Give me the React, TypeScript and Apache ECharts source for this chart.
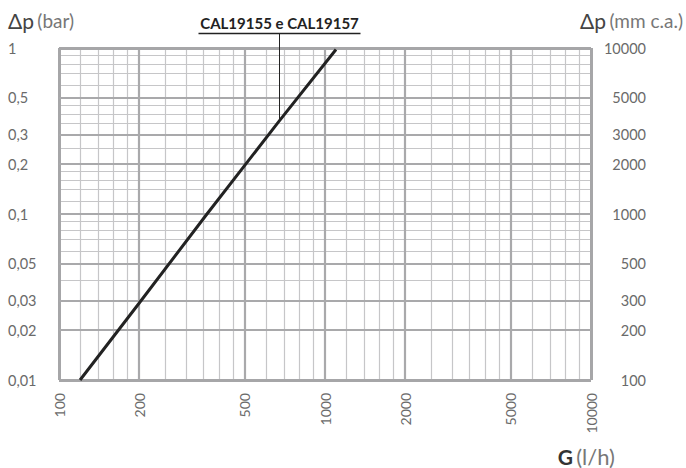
import React, { useEffect, useRef } from "react";
import * as echarts from "echarts";

// ---- data ----
const curveName = "CAL19155 e CAL19157";
const flowG = [120, 200, 360, 670, 1100]; // l/h
const dpBar = [0.01, 0.029, 0.1, 0.36, 0.98]; // bar

// annotation anchor on the curve
const labelAnchor = [670, 0.36];

// axes
const xTickValues = [100, 200, 500, 1000, 2000, 5000, 10000];
const xTickLabels = ["100", "200", "500", "1000", "2000", "5000", "10000"];
const yTickValues = [0.01, 0.02, 0.03, 0.05, 0.1, 0.2, 0.3, 0.5, 1];
const yTickLabels = ["0,01", "0,02", "0,03", "0,05", "0,1", "0,2", "0,3", "0,5", "1"];
const y2TickValues = [100, 200, 300, 500, 1000, 2000, 3000, 5000, 10000];
const y2TickLabels = ["100", "200", "300", "500", "1000", "2000", "3000", "5000", "10000"];

// grid lines
const xDecades = [100, 1000];
const xMinorMult = [1.2, 1.4, 1.6, 1.8, 2.5, 3, 3.5, 4, 4.5, 6, 7, 8, 9];
const xMajorLines = [100, 200, 500, 1000, 2000, 5000, 10000];
const yDecades = [0.01, 0.1];
const yMinorMult = [1.2, 1.4, 1.6, 1.8, 2.5, 3.5, 4, 4.5, 6, 7, 8, 9];
const yMajorLines = [0.01, 0.02, 0.03, 0.05, 0.1, 0.2, 0.3, 0.5, 1];

const FONT = "Lato, 'Noto Sans', sans-serif";
const LABEL_COLOR = "#6a6a6a";

function lookup(values: number[], labels: string[], v: number) {
  const i = values.findIndex((t) => Math.abs(t / v - 1) < 1e-6);
  return i >= 0 ? labels[i] : "";
}

export default function App() {
  const ref = useRef<HTMLDivElement>(null);

  useEffect(() => {
    document.body.style.margin = "0";
    if (!ref.current) return;
    const chart = echarts.init(ref.current, undefined, { renderer: "svg" });

    const xMinor: number[] = [];
    xDecades.forEach((d) => xMinorMult.forEach((m) => xMinor.push(+(d * m).toPrecision(6))));
    const yMinor: number[] = [];
    yDecades.forEach((d) => yMinorMult.forEach((m) => yMinor.push(+(d * m).toPrecision(6))));

    const minorStyle = { color: "#c6c6c8", width: 1.2, type: "solid" as const };
    const majorStyle = { color: "#a9a9ab", width: 2.2, type: "solid" as const };
    const borderStyle = { color: "#a6a6a8", width: 3, type: "solid" as const };

    const isBorderX = (v: number) => v === 100 || v === 10000;
    const isBorderY = (v: number) => v === 0.01 || v === 1;

    const markBase = {
      silent: true,
      symbol: "none",
      animation: false,
      label: { show: false },
      emphasis: { disabled: true },
    };

    chart.setOption({
      animation: false,
      grid: { left: 59, right: 95, top: 48, bottom: 88, outerBoundsMode: "none", containLabel: false },
      xAxis: {
        type: "log",
        logBase: 10,
        min: 100,
        max: 10000,
        axisLine: { show: false },
        axisTick: { show: false },
        splitLine: { show: false },
        minorTick: { show: false },
        minorSplitLine: { show: false },
        axisLabel: {
          customValues: xTickValues,
          rotate: 90,
          margin: 13,
          fontSize: 14,
          fontFamily: FONT,
          color: LABEL_COLOR,
          formatter: (v: number) => lookup(xTickValues, xTickLabels, v),
        },
      },
      yAxis: [
        {
          type: "log",
          logBase: 10,
          min: 0.01,
          max: 1,
          position: "left",
          axisLine: { show: false },
          axisTick: { show: false },
          splitLine: { show: false },
          axisLabel: {
            customValues: yTickValues,
            align: "left",
            margin: 51,
            fontSize: 14.5,
            fontFamily: FONT,
            color: LABEL_COLOR,
            formatter: (v: number) => lookup(yTickValues, yTickLabels, v),
          },
        },
        {
          type: "log",
          logBase: 10,
          min: 100,
          max: 10000,
          position: "right",
          axisLine: { show: false },
          axisTick: { show: false },
          splitLine: { show: false },
          axisLabel: {
            customValues: y2TickValues,
            align: "right",
            margin: 55,
            fontSize: 14.5,
            fontFamily: FONT,
            color: LABEL_COLOR,
            formatter: (v: number) => lookup(y2TickValues, y2TickLabels, v),
          },
        },
      ],
      series: [
        {
          name: "minorGrid",
          type: "line",
          data: [],
          z: 1,
          markLine: {
            ...markBase,
            lineStyle: minorStyle,
            data: [
              ...xMinor.map((v) => ({ xAxis: v })),
              ...yMinor.map((v) => ({ yAxis: v })),
            ],
          },
        },
        {
          name: "majorGrid",
          type: "line",
          data: [],
          z: 2,
          markLine: {
            ...markBase,
            lineStyle: majorStyle,
            data: [
              ...xMajorLines.map((v) => ({ xAxis: v, lineStyle: isBorderX(v) ? borderStyle : majorStyle })),
              ...yMajorLines.map((v) => ({ yAxis: v, lineStyle: isBorderY(v) ? borderStyle : majorStyle })),
            ],
          },
        },
        {
          name: curveName,
          type: "line",
          z: 5,
          showSymbol: false,
          symbol: "none",
          clip: false,
          lineStyle: { color: "#222222", width: 3 },
          data: flowG.map((g, i) => [g, dpBar[i]]),
        },
      ],
    });

    const p = chart.convertToPixel({ xAxisIndex: 0, yAxisIndex: 0 }, labelAnchor) as number[];
    const px = Math.round(p[0]) + 0.5;
    const halfW = 81;

    chart.setOption({
      graphic: [
        {
          type: "text",
          left: 8,
          top: 10,
          style: {
            text: "{a|Δp} {b|(bar)}",
            rich: {
              a: { fontSize: 21, fontFamily: FONT, fill: "#444" },
              b: { fontSize: 19, fontFamily: FONT, fill: "#777" },
            },
          },
        },
        {
          type: "text",
          right: 3,
          top: 10,
          style: {
            text: "{a|Δp} {b|(mm c.a.)}",
            rich: {
              a: { fontSize: 21, fontFamily: FONT, fill: "#444" },
              b: { fontSize: 19, fontFamily: FONT, fill: "#777" },
            },
          },
        },
        {
          type: "text",
          right: 71,
          bottom: 1,
          style: {
            text: "{a|G} {b|(l/h)}",
            rich: {
              a: { fontSize: 21, fontWeight: "bold", fontFamily: FONT, fill: "#333" },
              b: { fontSize: 22, fontFamily: FONT, fill: "#777" },
            },
          },
        },
        {
          type: "text",
          x: px,
          y: 15,
          style: {
            text: curveName,
            fontSize: 15,
            fontWeight: "bold",
            fontFamily: FONT,
            fill: "#222",
            align: "center",
            verticalAlign: "top",
          },
          z: 10,
        },
        {
          type: "line",
          shape: { x1: px - halfW, y1: 33.5, x2: px + halfW, y2: 33.5 },
          style: { stroke: "#222", lineWidth: 1.5 },
          z: 10,
        },
        {
          type: "line",
          shape: { x1: px, y1: 33.5, x2: px, y2: p[1] },
          style: { stroke: "#222", lineWidth: 1 },
          z: 10,
        },
      ],
    });

    return () => chart.dispose();
  }, []);

  return <div ref={ref} style={{ width: 686, height: 468 }} />;
}
